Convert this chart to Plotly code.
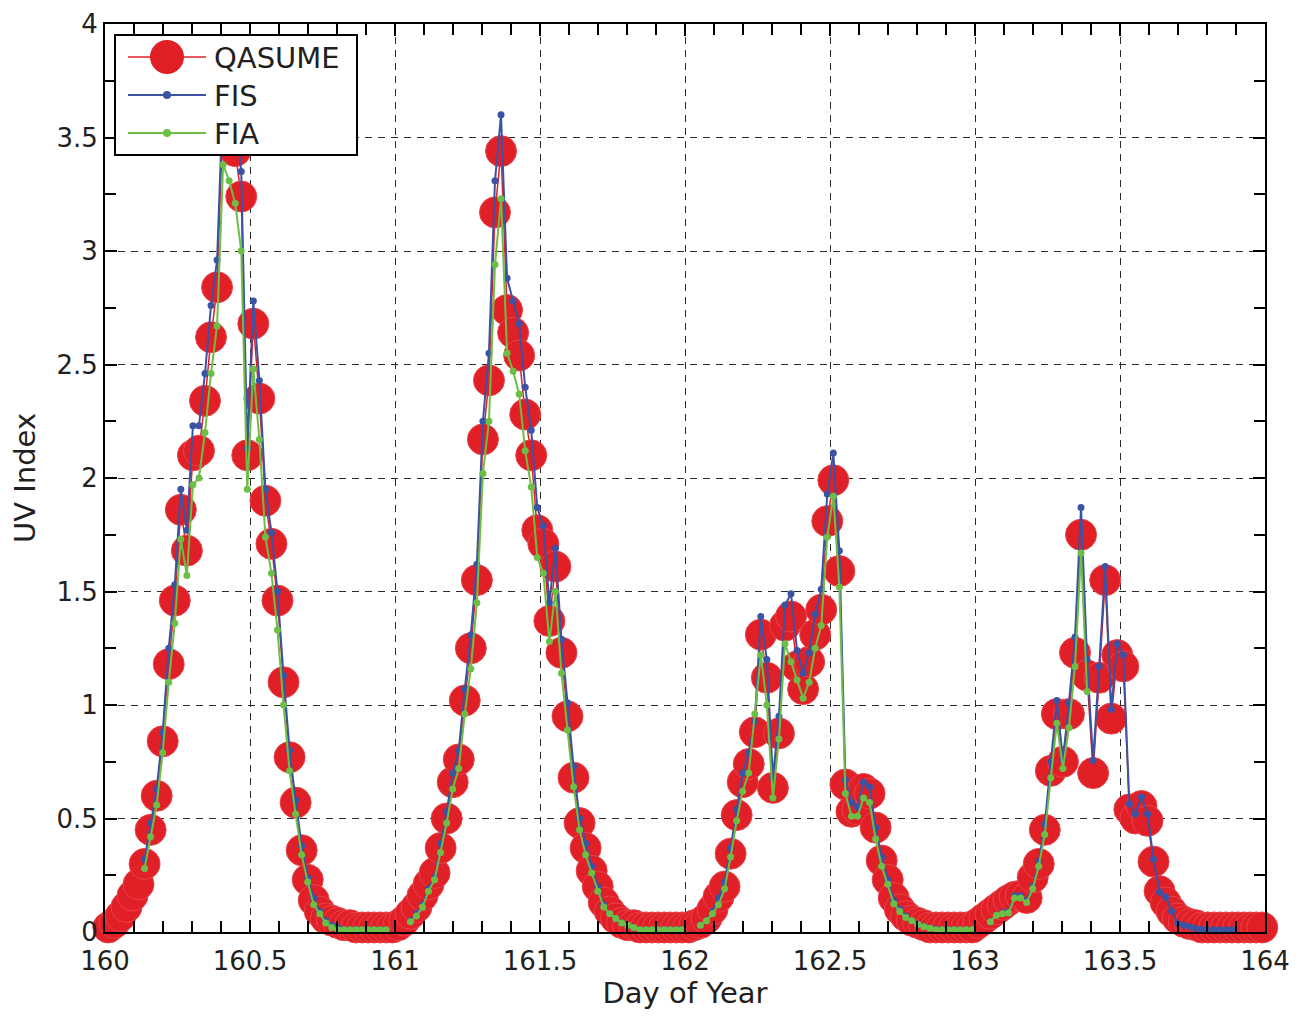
import plotly.graph_objects as go

# ---------------- data (30-min samples, day-of-year) ----------------
START_DAY = 160.0
STEP_DAYS = 1.0 / 48.0
FIRST_OFFSET = -0.45
N_SAMPLES = 193
day_of_year = [START_DAY + (i + FIRST_OFFSET) * STEP_DAYS for i in range(N_SAMPLES)]

qasume_160 = [0.01,
              0.02, 0.04, 0.07, 0.11, 0.16, 0.21, 0.30, 0.45, 0.60, 0.84, 1.18, 1.46,
              1.86, 1.68, 2.10, 2.12, 2.34, 2.62, 2.84, 3.60, 3.70, 3.44, 3.24, 2.10,
              2.68, 2.35, 1.90, 1.71, 1.46, 1.10, 0.77, 0.57, 0.36, 0.23, 0.14, 0.09,
              0.06, 0.05, 0.04, 0.03, 0.03, 0.02, 0.02, 0.02, 0.02, 0.02, 0.02, 0.02]
qasume_161 = [0.03, 0.05, 0.08, 0.11, 0.16, 0.21, 0.26, 0.37, 0.50, 0.66, 0.76, 1.02,
              1.25, 1.55, 2.17, 2.43, 3.17, 3.44, 2.74, 2.64, 2.54, 2.28, 2.10, 1.77,
              1.71, 1.37, 1.61, 1.23, 0.95, 0.68, 0.48, 0.37, 0.27, 0.20, 0.13, 0.09,
              0.06, 0.04, 0.03, 0.03, 0.02, 0.02, 0.02, 0.02, 0.02, 0.02, 0.02, 0.02]
qasume_162 = [0.02, 0.03, 0.04, 0.06, 0.10, 0.155, 0.20, 0.345, 0.515, 0.66, 0.74, 0.88,
              1.31, 1.12, 0.635, 0.875, 1.35, 1.39, 1.17, 1.07, 1.19, 1.31, 1.42, 1.81,
              1.99, 1.59, 0.65, 0.53, 0.54, 0.63, 0.61, 0.46, 0.315, 0.23, 0.15, 0.10,
              0.07, 0.05, 0.04, 0.03, 0.02, 0.02, 0.02, 0.02, 0.02, 0.02, 0.02, 0.02]
qasume_163 = [0.04, 0.06, 0.08, 0.10, 0.12, 0.14, 0.155, 0.16, 0.15, 0.24, 0.30, 0.45,
              0.71, 0.96, 0.75, 0.96, 1.23, 1.75, 1.13, 0.70, 1.12, 1.55, 0.94, 1.22,
              1.17, 0.54, 0.50, 0.555, 0.49, 0.31, 0.18, 0.13, 0.09, 0.06, 0.045, 0.035,
              0.03, 0.02, 0.02, 0.02, 0.02, 0.02, 0.02, 0.02, 0.02, 0.02, 0.02, 0.02]

N = None
fis_160 = [N,
           N, N, N, N, N, N,
           0.32, 0.48, 0.63, 0.88, 1.25, 1.53, 1.95, 1.77, 2.23, 2.23, 2.46, 2.76,
           2.96, 3.70, 3.75, 3.60, 3.35, 2.13, 2.78, 2.43, 1.95, 1.76, 1.50, 1.13,
           0.80, 0.58, 0.38, 0.24, 0.15, 0.09, 0.05, 0.03, 0.02, 0.01, 0.01, 0.01,
           0.01, 0.01, 0.01, 0.01, 0.01, N]
fis_161 = [N, N,
           0.05, 0.08, 0.12, 0.19, 0.24, 0.39, 0.53, 0.70, 0.80, 1.07, 1.31, 1.62,
           2.25, 2.55, 3.31, 3.60, 2.88, 2.78, 2.68, 2.40, 2.21, 1.87, 1.79, 1.45,
           1.69, 1.29, 1.01, 0.73, 0.50, 0.39, 0.29, 0.20, 0.12, 0.08, 0.06, 0.04,
           0.03, 0.02, 0.01, 0.01, 0.01, 0.01, 0.01, 0.01, 0.01, 0.01]
fis_162 = [N, N,
           0.03, 0.05, 0.09, 0.15, 0.22, 0.37, 0.54, 0.70, 0.79, 0.93, 1.39, 1.20,
           0.68, 0.95, 1.44, 1.49, 1.24, 1.14, 1.23, 1.40, 1.51, 1.93, 2.11, 1.68,
           0.67, 0.57, 0.55, 0.66, 0.64, 0.46, 0.33, 0.23, 0.14, 0.10, 0.07, 0.05,
           0.035, 0.025, 0.018, 0.012, 0.01, 0.01, 0.01, 0.01, 0.01, 0.01]
fis_163 = [N, N,
           0.045, 0.075, 0.085, 0.09, 0.16, 0.16, 0.14, 0.20, 0.31, 0.475, 0.75, 1.02,
           0.76, 1.01, 1.30, 1.87, 1.20, 0.755, 1.17, 1.61, 0.98, 1.27, 1.22, 0.565,
           0.52, 0.595, 0.52, 0.32, 0.176, 0.154, 0.093, 0.038, 0.03, 0.023, 0.015, 0.012,
           0.01, 0.01, 0.01, 0.01, 0.01, N, N, N, N, N]

fia_160 = [N,
           N, N, N, N, N, N,
           0.28, 0.42, 0.56, 0.79, 1.10, 1.36, 1.73, 1.57, 1.97, 2.00, 2.20, 2.46,
           2.67, 3.38, 3.31, 3.21, 3.00, 1.95, 2.48, 2.17, 1.74, 1.58, 1.33, 1.00,
           0.71, 0.52, 0.34, 0.22, 0.12, 0.08, 0.04, 0.02, 0.01, 0.01, 0.01, 0.01,
           0.01, 0.01, 0.01, 0.01, 0.01, N]
fia_161 = [N, N,
           0.045, 0.07, 0.11, 0.18, 0.23, 0.35, 0.48, 0.63, 0.72, 0.96, 1.16, 1.45,
           2.02, 2.25, 2.94, 3.23, 2.55, 2.47, 2.37, 2.12, 1.96, 1.65, 1.58, 1.28,
           1.50, 1.14, 0.89, 0.64, 0.45, 0.34, 0.26, 0.18, 0.11, 0.08, 0.06, 0.04,
           0.03, 0.02, 0.01, 0.01, 0.01, 0.01, 0.01, 0.01, 0.01, 0.01]
fia_162 = [N, N,
           0.03, 0.05, 0.08, 0.12, 0.19, 0.33, 0.49, 0.62, 0.70, 0.96, 1.22, 1.00,
           0.59, 0.85, 1.27, 1.19, 1.11, 1.03, 1.10, 1.25, 1.35, 1.74, 1.92, 1.52,
           0.61, 0.51, 0.51, 0.59, 0.57, 0.41, 0.29, 0.21, 0.125, 0.09, 0.064, 0.05,
           0.033, 0.023, 0.016, 0.01, 0.01, 0.01, 0.01, 0.01, 0.01, 0.01]
fia_163 = [N, N,
           0.045, 0.074, 0.08, 0.084, 0.15, 0.15, 0.13, 0.19, 0.29, 0.43, 0.68, 0.92,
           0.72, 0.90, 1.17, 1.67, 1.06] + [N] * 29

qasume_uv = qasume_160 + qasume_161 + qasume_162 + qasume_163
fis_uv = fis_160 + fis_161 + fis_162 + fis_163
fia_uv = fia_160 + fia_161 + fia_162 + fia_163

series_names = ["QASUME", "FIS", "FIA"]
x_tick_step = 0.5
y_tick_step = 0.5

# ---------------- style ----------------
RED = "#E01F27"
BLUE = "#3A53A4"
GREEN = "#6CBF46"
FONT = "DejaVu Sans"
TXT = "#231F20"

fig = go.Figure()
fig.add_trace(go.Scatter(
    x=day_of_year, y=qasume_uv, mode="lines+markers", name=series_names[0],
    line=dict(color=RED, width=1.5),
    marker=dict(size=31, color=RED, line=dict(color="#E8434A", width=1)),
    cliponaxis=False, showlegend=False))
fig.add_trace(go.Scatter(
    x=day_of_year, y=fis_uv, mode="lines+markers", name=series_names[1],
    line=dict(color=BLUE, width=2), marker=dict(size=7, color=BLUE),
    showlegend=False))
fig.add_trace(go.Scatter(
    x=day_of_year, y=fia_uv, mode="lines+markers", name=series_names[2],
    line=dict(color=GREEN, width=2), marker=dict(size=7, color=GREEN),
    showlegend=False))

# plot-area geometry in page pixels (page has an 8px body margin)
BODY = 8
L, R, T, B = 105, 1265, 24, 932
FIG_W, FIG_H = 1290, 1002
W, H = R - L, B - T
def px_x(p):
    return (p - L) / W
def px_y(p):
    return (B - p) / H

shapes = [
    dict(type="rect", xref="paper", yref="paper", layer="above",
         x0=px_x(115), x1=px_x(357), y0=px_y(155), y1=px_y(35),
         fillcolor="white", line=dict(color="black", width=2)),
]
rows = [(57, RED, 34), (95, BLUE, 8), (133, GREEN, 8)]
for (yy, col, dia), name in zip(rows, series_names):
    shapes.append(dict(type="line", xref="paper", yref="paper", layer="above",
                       x0=px_x(128), x1=px_x(206), y0=px_y(yy), y1=px_y(yy),
                       line=dict(color=col, width=2 if col != RED else 1.5)))
    shapes.append(dict(type="circle", xref="paper", yref="paper", layer="above",
                       x0=px_x(167 - dia / 2), x1=px_x(167 + dia / 2),
                       y0=px_y(yy + dia / 2), y1=px_y(yy - dia / 2),
                       fillcolor=col, line=dict(color=col, width=0)))

annotations = []
for (yy, col, dia), name in zip(rows, series_names):
    annotations.append(dict(xref="paper", yref="paper", x=px_x(212), y=px_y(yy + 1),
                            text=name, showarrow=False, xanchor="left", yanchor="middle",
                            font=dict(family=FONT, size=29, color=TXT)))

axis_common = dict(
    showline=True, linecolor="black", linewidth=2, mirror="ticks",
    ticks="inside", ticklen=12, tickwidth=1.5, tickcolor="black",
    showgrid=True, gridcolor="#2a2a2a", gridwidth=1.3, griddash="7px,6px",
    zeroline=False, automargin=False, ticklabeloverflow="allow",
    tickfont=dict(family=FONT, size=26, color=TXT),
)

fig.update_layout(
    width=FIG_W, height=FIG_H,
    margin=dict(l=L - BODY, r=FIG_W - (R - BODY), t=T - BODY, b=FIG_H - (B - BODY)),
    paper_bgcolor="white", plot_bgcolor="white",
    font=dict(family=FONT, color=TXT),
    shapes=shapes, annotations=annotations,
    xaxis=dict(range=[160, 164], tickmode="linear", tick0=160, dtick=x_tick_step,
               ticklabelstandoff=5,
               title=dict(text="Day of Year", font=dict(family=FONT, size=29, color=TXT),
                          standoff=7),
               minor=dict(dtick=0.1, tick0=160, ticks="inside", ticklen=11,
                          tickcolor="black", tickwidth=1.5, showgrid=False),
               **axis_common),
    yaxis=dict(range=[0, 4], tickmode="linear", tick0=0, dtick=y_tick_step,
               title=dict(text="UV Index", font=dict(family=FONT, size=29, color=TXT),
                          standoff=18),
               minor=dict(dtick=0.25, tick0=0, ticks="inside", ticklen=11,
                          tickcolor="black", tickwidth=1.5, showgrid=False),
               **axis_common),
)

fig.write_html("out.html")
